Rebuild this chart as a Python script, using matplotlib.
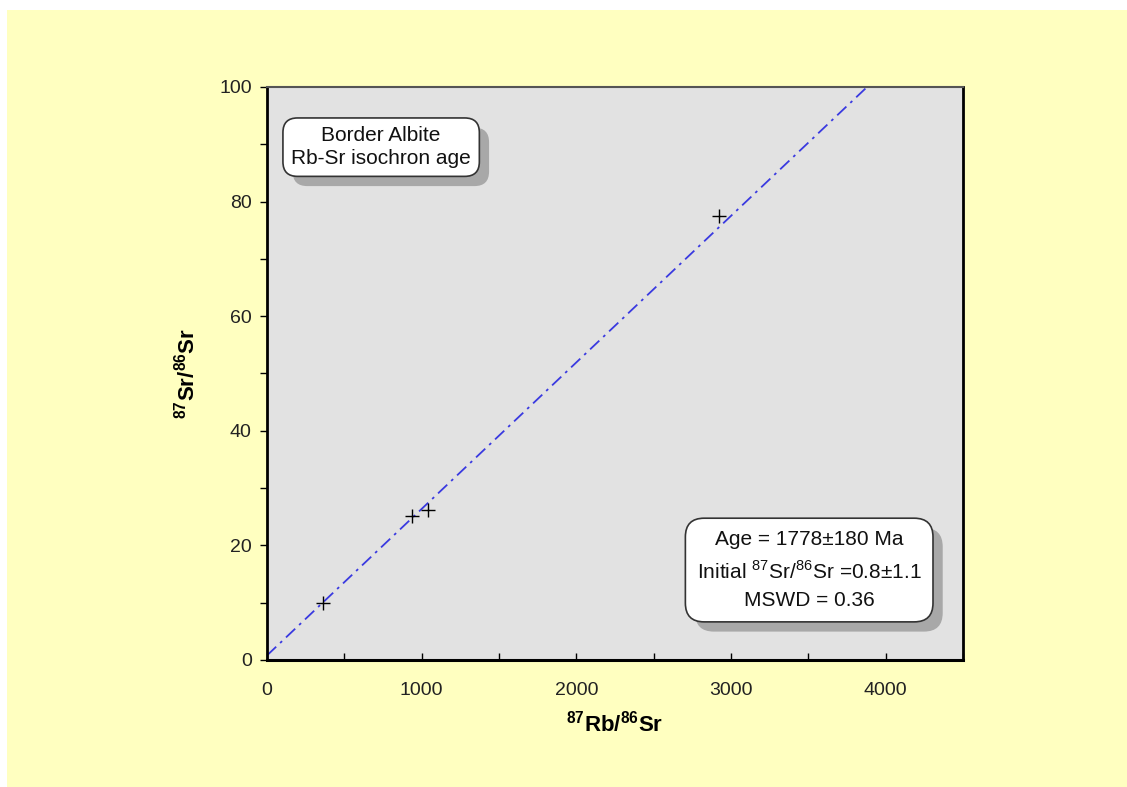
import numpy as np
import matplotlib
matplotlib.use("Agg")
import matplotlib.pyplot as plt
from matplotlib.ticker import MultipleLocator
import matplotlib.patheffects as pe

plt.rcParams['font.family'] = ['Liberation Sans', 'DejaVu Sans']
plt.rcParams['mathtext.fontset'] = 'custom'
plt.rcParams['mathtext.rm'] = 'Liberation Sans'
plt.rcParams['mathtext.bf'] = 'Liberation Sans:bold'

# Measured ratios for the border albite samples
rb_sr = [364, 935, 1039, 2922]
sr_sr = [9.9, 25.1, 26.2, 77.5]

# Isochron fit results
age_ma = 1778
age_err = 180
initial_ratio = 0.8
initial_err = 1.1
mswd = 0.36
lambda_rb = 1.42e-11  # 87Rb decay constant, 1/yr

x_ticks = [0, 1000, 2000, 3000, 4000]
y_ticks = [0, 20, 40, 60, 80, 100]

fig = plt.figure(figsize=(11.27, 7.87), dpi=100)
fig.patch.set_facecolor('white')
# pale yellow panel behind the chart
fig.patches.append(plt.Rectangle((7 / 1127, 0), 1, 1 - 10 / 787,
                                 transform=fig.transFigure, facecolor='#ffffc0',
                                 edgecolor='none', zorder=-10))

ax = fig.add_axes([267 / 1127, 1 - 660 / 787, (963 - 267) / 1127, (660 - 87) / 787])
ax.set_facecolor('#e2e2e2')

# isochron line
slope = np.exp(lambda_rb * age_ma * 1e6) - 1
xl = np.array([0, 4500])
ax.plot(xl, initial_ratio + slope * xl, color='#3a3ae0', lw=1.3,
        dashes=(7, 3, 1.5, 3), zorder=2)

ax.plot(rb_sr, sr_sr, linestyle='none', marker='+', color='black',
        markersize=10, mew=1.0, zorder=3)

ax.set_xlim(0, 4500)
ax.set_ylim(0, 100)
ax.set_xticks(x_ticks)
ax.set_yticks(y_ticks)
ax.xaxis.set_minor_locator(MultipleLocator(500))
ax.yaxis.set_minor_locator(MultipleLocator(10))

ax.tick_params(axis='x', which='both', direction='in', length=5, width=1,
               pad=16, labelsize=14, colors='black')
ax.tick_params(axis='y', which='both', direction='out', length=5, width=1,
               pad=6, labelsize=14, colors='black')
ax.tick_params(which='both', labelcolor='#222222')

for side, lw, col in [('left', 2.0, 'black'), ('bottom', 2.2, 'black'),
                      ('right', 2.0, 'black'), ('top', 1.5, '#555555')]:
    ax.spines[side].set_linewidth(lw)
    ax.spines[side].set_color(col)

ax.set_xlabel(r'$^{\mathbf{87}}$Rb/$^{\mathbf{86}}$Sr', fontsize=16,
              fontweight='bold', labelpad=8)
ax.set_ylabel(r'$^{\mathbf{87}}$Sr/$^{\mathbf{86}}$Sr', fontsize=16,
              fontweight='bold', labelpad=14)

shadow = [pe.SimplePatchShadow(offset=(7, -7), shadow_rgbFace='#a8a8a8', alpha=1.0),
          pe.Normal()]

t1 = ax.text(0.164, 0.895, 'Border Albite\nRb-Sr isochron age', transform=ax.transAxes,
             ha='center', va='center', fontsize=15, linespacing=1.25, color='#111111',
             bbox=dict(boxstyle='round,pad=0.4,rounding_size=0.7', facecolor='white',
                       edgecolor='#333333', lw=1.2))
t1.get_bbox_patch().set_path_effects(shadow)

info = (f'Age = {age_ma}±{age_err} Ma\n'
        f'Initial $^{{87}}$Sr/$^{{86}}$Sr ={initial_ratio}±{initial_err}\n'
        f'MSWD = {mswd}')
t2 = ax.text(0.779, 0.157, info, transform=ax.transAxes,
             ha='center', va='center', fontsize=15, linespacing=1.6, color='#111111',
             bbox=dict(boxstyle='round,pad=0.55,rounding_size=0.9', facecolor='white',
                       edgecolor='#333333', lw=1.2))
t2.get_bbox_patch().set_path_effects(shadow)

fig.savefig('out.png', dpi=100, facecolor=fig.get_facecolor())
